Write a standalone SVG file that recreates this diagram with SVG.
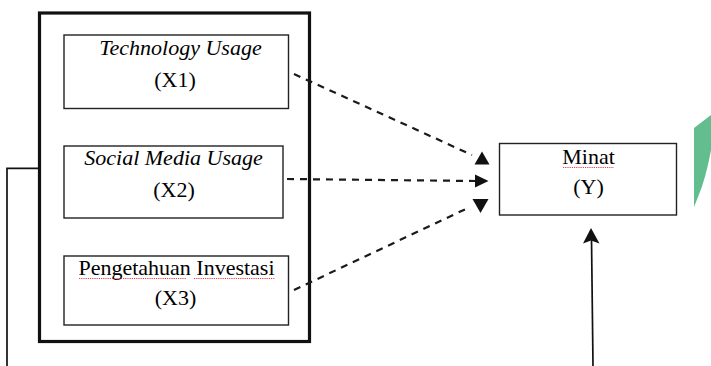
<svg xmlns="http://www.w3.org/2000/svg" width="711" height="366" viewBox="0 0 711 366">
<style>
.box{fill:#fff;stroke:#222;stroke-width:1.4}
.t{font-family:"Liberation Serif","Times New Roman",serif;font-size:22px;fill:#000;text-anchor:middle}
.i{font-style:italic}
.dash{fill:none;stroke:#1a1a1a;stroke-width:2.2;stroke-dasharray:7 6}
.solid{fill:none;stroke:#111;stroke-width:1.7}
.head{fill:#111;stroke:none}
.sq{fill:none;stroke:#e03030;stroke-width:0.9;stroke-dasharray:1.2 1}
</style>
<rect width="711" height="366" fill="#fff"/>
<path d="M694,128 L711,115 L711,150 Q706,178 698,197 L694,207 Z" fill="#62bd8f"/>
<g id="group-X">
<rect x="39.5" y="13" width="270" height="328.5" fill="none" stroke="#111" stroke-width="3.2"/>
</g>
<g id="node-X1">
<rect class="box" x="64" y="35" width="224.5" height="73.5"/>
<text class="t i" x="180.5" y="55">Technology Usage</text>
<text class="t" x="175" y="87">(X1)</text>
</g>
<g id="node-X2">
<rect class="box" x="64" y="146" width="219" height="72"/>
<text class="t i" x="173.5" y="165">Social Media Usage</text>
<text class="t" x="174" y="197">(X2)</text>
</g>
<g id="node-X3">
<rect class="box" x="64" y="256" width="224.5" height="69"/>
<text class="t" x="176.5" y="275">Pengetahuan Investasi</text>
<text class="t" x="175.5" y="305">(X3)</text>
<path class="sq" d="M79,278.5 H186 M194,278.5 H275"/>
</g>
<g id="node-Y">
<rect class="box" x="499.5" y="143.5" width="177" height="71.5"/>
<text class="t" x="588.5" y="164">Minat</text>
<text class="t" x="588.5" y="194">(Y)</text>
<path class="sq" d="M563,167.5 H614"/>
</g>
<g id="connectors">
<path class="dash" d="M294,74 L472,155"/>
<path class="dash" d="M287,179 L476,181"/>
<path class="dash" d="M294,290 L470,207"/>
<polygon class="head" points="482,151.5 474.5,164.5 489.5,164.5"/>
<polygon class="head" points="488.5,181 475,174.5 475,187.5"/>
<polygon class="head" points="480.5,213 472.5,199 488.5,199"/>
<path class="solid" d="M7,366 V168.3 H39"/>
<path class="solid" d="M593,366 L591.5,238"/>
<polygon class="head" points="591,228 583,243.5 591,240.5 599.5,243.5"/>
</g>
</svg>
